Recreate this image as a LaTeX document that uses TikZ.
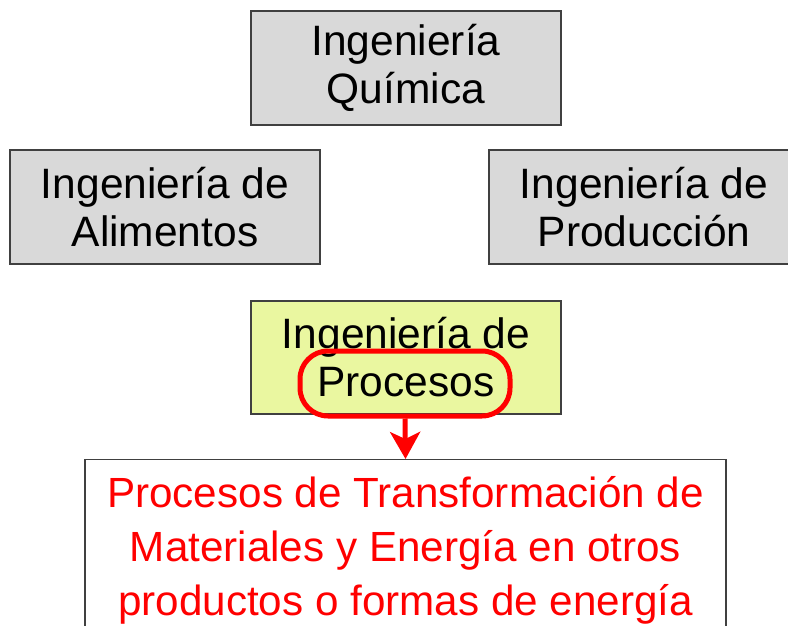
\documentclass[tikz,border=0pt]{standalone}
\usepackage{fontspec}
\setmainfont{Liberation Sans}
\usetikzlibrary{arrows.meta}
\definecolor{boxgray}{RGB}{217,217,217}
\definecolor{boxgreen}{RGB}{234,247,160}
\definecolor{edge}{RGB}{64,64,64}
\tikzset{
  x=1pt,y=1pt,
  blk/.style={draw=edge,line width=1.3pt,fill=boxgray,minimum width=310pt,minimum height=114pt,
    align=center,inner sep=0pt,font=\fontsize{42.5}{48}\selectfont},
  hlbox/.style={draw=red,line width=5pt,rounded corners=28pt,minimum width=210pt,minimum height=65pt,inner sep=0pt},
  outbox/.style={draw=edge,line width=1.3pt,fill=white,minimum width=641pt,minimum height=220pt,
    anchor=north,inner sep=0pt},
  outtext/.style={text=red,align=center,inner sep=0pt,anchor=base,font=\fontsize{42.2}{54}\selectfont},
  redarrow/.style={draw=red,line width=5pt,-{Stealth[length=27pt,width=30pt,inset=7pt]}}
}
\begin{document}
\begin{tikzpicture}
\useasboundingbox (0,0) rectangle (788,-625);
\clip (0,0) rectangle (788,-625);
\node[blk] (top) at (406,-68) {Ingeniería\\Química};
\node[blk] (food) at (165,-207) {Ingeniería de\\Alimentos};
\node[blk] (prod) at (644,-207) {Ingeniería de\\Producción};
\node[blk,fill=boxgreen,minimum height=113pt] (proc) at (406,-357.5) {Ingeniería de\\Procesos};
\node[hlbox] (hl) at (405,-383.5) {};
\node[outbox] (out) at (405.5,-459) {};
\node[outtext] (outtxt) at (405.5,-615) {Procesos de Transformación de\\Materiales y Energía en otros\\productos o formas de energía};
\draw[redarrow] (hl.south) -- (out.north);
\end{tikzpicture}
\end{document}
